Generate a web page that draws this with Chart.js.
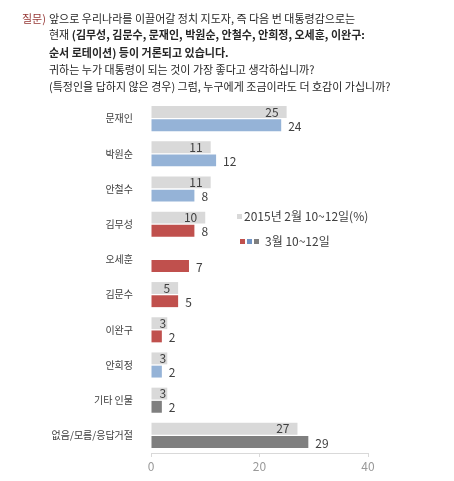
<!DOCTYPE html>
<html><head><meta charset="utf-8">
<script src="https://cdn.jsdelivr.net/npm/chart.js@4"></script>
<style>
html,body{margin:0;padding:0;background:#fff;width:454px;height:481px;overflow:hidden;font-family:"Noto Sans CJK KR","Noto Sans",sans-serif;}
#wrap{position:absolute;left:0;top:0;width:454px;height:481px;}
.t{position:absolute;white-space:nowrap;font-size:11px;color:#262626;line-height:14px;}
.q{color:#953735;}
b{font-weight:700;}
.lg{position:absolute;white-space:nowrap;font-size:12px;color:#404040;line-height:14px;}
.sq{display:inline-block;width:5px;height:5px;margin-right:2px;vertical-align:middle;position:relative;top:-1px;}
</style></head>
<body>
<div id="wrap"><canvas id="c" width="454" height="481"></canvas></div>
<div class="t q" style="left:22px;top:11px;">질문)</div>
<div class="t" style="left:49px;top:11px;">앞으로 우리나라를 이끌어갈 정치 지도자, 즉 다음 번 대통령감으로는</div>
<div class="t" style="left:49px;top:27px;">현재 <b>(김무성, 김문수, 문재인, 박원순, 안철수, 안희정, 오세훈, 이완구:</b></div>
<div class="t" style="left:49px;top:45px;"><b>순서 로테이션) 등이 거론되고 있습니다.</b></div>
<div class="t" style="left:49px;top:62px;">귀하는 누가 대통령이 되는 것이 가장 좋다고 생각하십니까?</div>
<div class="t" style="left:49px;top:79px;">(특정인을 답하지 않은 경우) 그럼, 누구에게 조금이라도 더 호감이 가십니까?</div>
<div class="lg" style="left:237px;top:209px;"><span class="sq" style="background:#d9d9d9"></span>2015년 2월 10~12일(%)</div>
<div class="lg" style="left:240px;top:234px;"><span class="sq" style="background:#c0504d"></span><span class="sq" style="background:#6f93c3"></span><span class="sq" style="background:#7f7f7f;margin-right:6px"></span>3월 10~12일</div>
<script>
const categories = ["문재인","박원순","안철수","김무성","오세훈","김문수","이완구","안희정","기타 인물","없음/모름/응답거절"];
const febValues = [25, 11, 11, 10, null, 5, 3, 3, 3, 27];
const marValues = [24, 12, 8, 8, 7, 5, 2, 2, 2, 29];
const marColors = ["#95b3d7","#95b3d7","#95b3d7","#c0504d","#c0504d","#c0504d","#c0504d","#95b3d7","#7f7f7f","#7f7f7f"];
const xTicks = [0, 20, 40];
const seriesNames = ["2015년 2월 10~12일(%)", "3월 10~12일"];

const labelPlugin = {
  id: 'vals',
  afterDatasetsDraw(chart) {
    const ctx = chart.ctx;
    ctx.save();
    ctx.font = '12px "Noto Sans CJK KR", "Noto Sans", sans-serif';
    ctx.fillStyle = '#404040';
    ctx.textBaseline = 'middle';
    chart.data.datasets.forEach((ds, di) => {
      const meta = chart.getDatasetMeta(di);
      meta.data.forEach((bar, i) => {
        const v = ds.data[i];
        if (v === null || v === undefined) return;
        const txt = String(v);
        if (di === 0) {
          ctx.textAlign = 'right';
          const w = ctx.measureText(txt).width;
          const x = Math.max(bar.x - 8, bar.base + w + 8);
          ctx.fillText(txt, x, bar.y);
        } else {
          ctx.textAlign = 'left';
          ctx.fillText(txt, bar.x + 7, bar.y + 1);
        }
      });
    });
    ctx.restore();
  }
};

new Chart(document.getElementById('c'), {
  type: 'bar',
  data: {
    labels: categories,
    datasets: [
      { label: seriesNames[0], data: febValues, backgroundColor: '#d9d9d9', categoryPercentage: 0.75, barPercentage: 0.9 },
      { label: seriesNames[1], data: marValues, backgroundColor: marColors, categoryPercentage: 0.75, barPercentage: 0.9 }
    ]
  },
  options: {
    indexAxis: 'y',
    responsive: false,
    animation: false,
    devicePixelRatio: 1,
    layout: { padding: { left: 0, right: 86, top: 101, bottom: 0 } },
    plugins: { legend: { display: false }, tooltip: { enabled: false } },
    scales: {
      x: {
        min: 0, max: 40,
        afterFit(s) { s.height = 28; },
        afterBuildTicks(s) { s.ticks = xTicks.map(v => ({ value: v })); },
        grid: { drawOnChartArea: false, drawTicks: true, tickLength: 4, color: '#d9d9d9' },
        border: { display: true, color: '#d9d9d9' },
        ticks: { color: '#999999', font: { size: 12, family: '"Noto Sans CJK KR", "Noto Sans", sans-serif' }, padding: 2 }
      },
      y: {
        afterFit(s) { s.width = 151; },
        grid: { display: false },
        border: { display: false },
        ticks: { color: '#404040', font: { size: 10, family: '"Noto Sans CJK KR", "Noto Sans", sans-serif' }, padding: 10 }
      }
    }
  },
  plugins: [labelPlugin]
});
</script>
</body></html>
